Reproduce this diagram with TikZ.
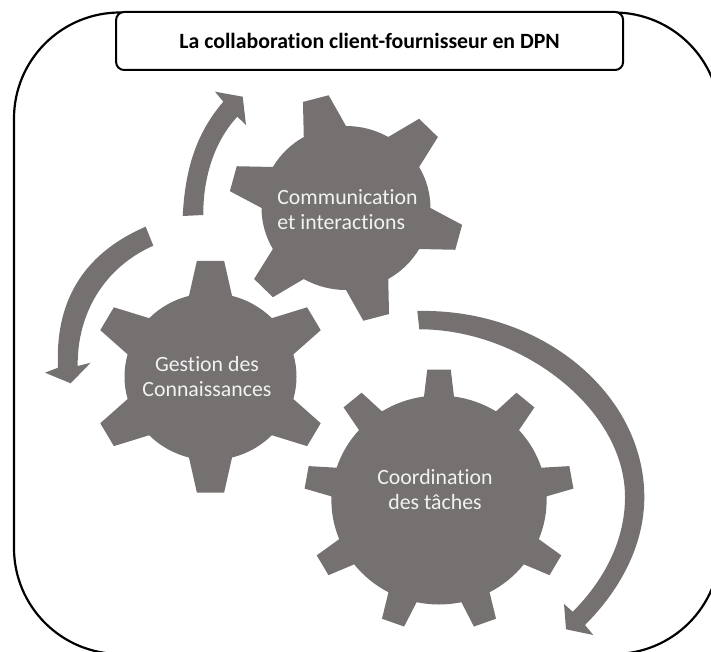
\documentclass[tikz,border=0pt]{standalone}
\usepackage{fontspec}
\setmainfont{Carlito}[Ligatures=NoCommon]
\usepackage{tikz}
\definecolor{geargray}{HTML}{767171}
\definecolor{labelwhite}{HTML}{F2F2F2}
\tikzstyle{gearfill}=[fill=geargray]
\tikzstyle{turnarrow}=[fill=geargray]
\tikzstyle{frame}=[draw=black, line width=2.2pt, rounded corners=106pt]
\tikzstyle{titlebox}=[draw=black, fill=white, line width=2pt, rounded corners=8pt, minimum width=507pt, minimum height=58pt, font=\fontsize{21.8}{25}\selectfont\bfseries]
\tikzstyle{gearlabel}=[text=labelwhite, align=center, font=\fontsize{21.8}{25}\selectfont]
% centre, teeth, phase, body radius, tip radius, base half angle, tip half angle
\newcommand{\gearwheel}[7]{
    \begin{scope}[shift={(#1)}, xscale=1.03]
        \pgfmathsetmacro{\gearstep}{360/#2}
        \fill[gearfill] (#3-#6:#4)
            \foreach \k [evaluate=\k as \a using {#3+(\k-1)*\gearstep}] in {1,...,#2} {
                -- (\a-#6:#4) -- (\a-#7:#5) -- (\a+#7:#5) -- (\a+#6:#4)
                arc[start angle=\a+#6, end angle=\a+\gearstep-#6, radius=#4]
            } -- cycle;
    \end{scope}
}

\begin{document}
\begin{tikzpicture}[x=1pt, y=-1pt]

    \path[use as bounding box, clip] (0,0) rectangle (711,652);

    % outer frame and title
    \draw[frame] (14,12.5) rectangle (720,654);
    \node[titlebox] (title) at (369.6,41) {La collaboration client-fournisseur en DPN};

    % gears
    \gearwheel{346,208}{6}{15}{82}{114}{15}{6.5}
    \gearwheel{210.5,376.7}{6}{30}{83.5}{116.7}{14.5}{6.5}
    \gearwheel{439,500}{9}{-90}{104.5}{131}{8}{5}

    % gear labels
    \node[gearlabel, align=left] (comm) at (347.5,210) {Communication\\et interactions};
    \node[gearlabel] (gestion) at (207,377) {Gestion des\\Connaissances};
    \node[gearlabel] (coord) at (435,490) {Coordination\\des tâches};

    % arrow towards the top
    \fill[turnarrow] (182.7,216) .. controls (185,172) and (194.7,135) .. (223.3,101.7)
        -- (215,91.7) -- (242.7,96.7) -- (246,125) -- (237.3,116.7)
        .. controls (213,143) and (203,180) .. (203.3,215) -- cycle;

    % arrow towards the left
    \fill[turnarrow] (145.7,226.7) .. controls (80,255) and (55,305) .. (58,367.7)
        -- (45,372.7) -- (70.7,383.3) -- (90.7,362.7) -- (77.7,366)
        .. controls (77,315) and (103,268) .. (153.3,245.7) -- cycle;

    % arrow towards the bottom
    \fill[turnarrow] (417.3,311) .. controls (542,308) and (644.3,394) .. (644.3,497)
        .. controls (644.3,546) and (619.5,590.5) .. (585,625)
        -- (593.3,635) -- (566,629.3) -- (564,604) -- (572.7,611.7)
        .. controls (603.7,580.7) and (625,541) .. (625,497)
        .. controls (625,408) and (520,329) .. (419.3,329.3) -- cycle;
\end{tikzpicture}
\end{document}
